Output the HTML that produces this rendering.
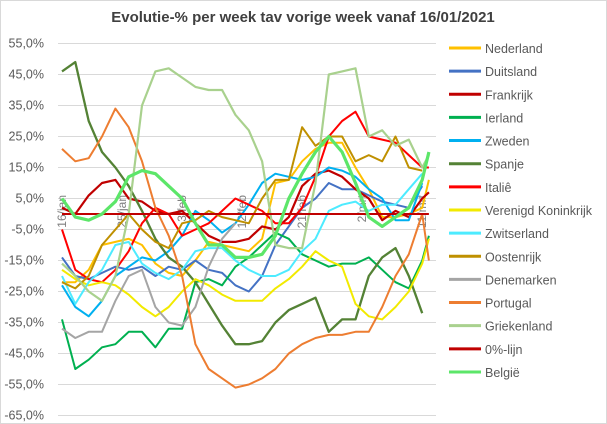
<!DOCTYPE html>
<html><head><meta charset="utf-8"><style>
html,body{margin:0;padding:0;background:#fff}
#c{position:relative;width:607px;height:424px;overflow:hidden;font-family:"Liberation Sans",sans-serif}
svg text{font-family:"Liberation Sans",sans-serif}
</style></head><body>
<div id="c">
<svg id="s" width="607" height="424" xmlns="http://www.w3.org/2000/svg">
<rect x="0.5" y="0.5" width="606" height="423" fill="#fff" stroke="#d9d9d9"/>
<text x="303" y="22" text-anchor="middle" font-size="15" font-weight="bold" fill="#404040">Evolutie-% per week tav vorige week vanaf 16/01/2021</text>
<g id="grid"></g><g id="ylab"></g><g id="xlab"></g><g id="lines"></g><g id="legend"></g>
</svg></div>
<script>
const days=[0,2,4,6,8,10,12,14,16,18,20,22,24,26,28,30,32,34,36,38,40,42,44,46,48,50,52,54,55];
const yTicks=[55,45,35,25,15,5,-5,-15,-25,-35,-45,-55,-65];
const xTickDays=[0,9,18,27,36,45,54];
const xTickLabels=["16/jan","25/jan","3/feb","12/feb","21/feb","2/mrt","11/mrt"];
const seriesNames=["Nederland","Duitsland","Frankrijk","Ierland","Zweden","Spanje","Italiê","Verenigd Koninkrijk","Zwitserland","Oostenrijk","Denemarken","Portugal","Griekenland","0%-lijn","België"];
const nederland=[-22,-22,-18,-10,-9,-8,-10,-16,-19,-20,-15,-9,-10,-11,-12,-8,10,11,17,21,23,23,15,8,-1,-1,0,2,11];
const duitsland=[-14,-20,-21,-19,-17,-18,-17,-20,-17,-18,-15,-18,-19,-23,-25,-20,-10,-4,2,5,10,8,8,6,4,3,2,9,null];
const frankrijk=[2,0,6,10,11,5,4,1,0,1,-3,-7,-9,-9,-8,-4,-5,-1,9,13,14,12,8,5,-2,1,-1,5,7];
const ierland=[-34,-50,-47,-43,-42,-38,-38,-43,-37,-37,-22,-21,-23,-17,-14,-10,-6,-8,-13,-15,-17,-16,-16,-14,-18,-22,-24,-15,-7];
const zweden=[-23,-30,-33,-28,-20,-17,-14,-15,-12,-7,1,-2,-6,-3,3,10,13,12,11,12,15,14,12,8,5,-2,-2,10,null];
const spanje=[46,49,30,20,15,9,1,-8,-14,-17,-22,-29,-36,-42,-42,-41,-35,-31,-29,-27,-38,-34,-34,-20,-14,-11,-20,-32,null];
const italie=[-5,-18,-21,-22,-18,-12,-3,2,0,-7,-5,-3,1,5,3,1,-3,-3,2,12,25,30,33,25,24,23,19,15,15];
const vk=[-18,-21,-23,-22,-23,-26,-30,-33,-30,-25,-21,-23,-26,-28,-28,-28,-24,-21,-17,-12,-15,-17,-29,-33,-34,-30,-25,-16,-8];
const zwitserland=[-20,-29,-22,-18,-10,-9,-16,-19,-21,-18,-12,-11,-11,-15,-18,-20,-20,-18,-12,-8,1,3,4,1,3,3,8,13,null];
const oostenrijk=[-22,-24,-20,-10,-5,0,-5,-9,-11,-3,-2,1,-1,-2,-3,5,11,11,28,22,25,25,17,19,17,25,15,14,null];
const denemarken=[-37,-40,-38,-38,-28,-20,-18,-30,-35,-36,-30,-17,-8,-3,null,null,null,null,null,null,null,null,null,null,null,null,null,null,null];
const portugal=[21,17,18,25,34,28,17,2,-7,-20,-42,-50,-53,-56,-55,-53,-50,-45,-42,-40,-39,-39,-38,-38,-30,-20,-13,0,-15];
const griekenland=[-16,-20,-25,-28,-20,0,35,46,47,44,41,40,40,32,27,17,-10,-11,-11,10,45,46,47,25,27,22,24,15,19];
const nullijn=[0,0,0,0,0,0,0,0,0,0,0,0,0,0,0,0,0,0,0,0,0,0,0,0,0,0,0,0,0];
const belgie=[5,-1,-2,0,4,12,14,13,9,5,-3,-10,-10,-14,-14,-13,-7,5,13,20,25,20,10,-1,-4,-1,2,11,20];
const seriesData=[nederland,duitsland,frankrijk,ierland,zweden,spanje,italie,vk,zwitserland,oostenrijk,denemarken,portugal,griekenland,nullijn,belgie];
const colors=["#FFC000","#4472C4","#C00000","#00B050","#00B0F0","#548235","#FF0000","#F2EA00","#4DEBFF","#BF9000","#A5A5A5","#ED7D31","#A9D18E","#C00000","#5CE669"];
const widths=[2,2,2.2,2,2,2.3,2,2,2,2,2,2,2.2,2,3.2];
const NS="http://www.w3.org/2000/svg";
function X(d){return 62+d*6.67;}
function Y(v){return 214-v*3.1;}
function mk(t,a,p){const e=document.createElementNS(NS,t);for(const k in a)e.setAttribute(k,a[k]);p.appendChild(e);return e;}
const grid=document.getElementById('grid'),ylab=document.getElementById('ylab'),xlab=document.getElementById('xlab'),lines=document.getElementById('lines'),legend=document.getElementById('legend');
yTicks.forEach(t=>{
 const l=mk('line',{x1:58,x2:436,y1:Y(t),y2:Y(t),stroke:'#d9d9d9','stroke-width':1},grid);
 
 
 const tx=mk('text',{x:44,y:Y(t)+4,'text-anchor':'end','font-size':12.5,fill:'#595959'},ylab);
 tx.textContent=t.toFixed(1).replace('.',',')+'%';
 
 
});
xTickDays.forEach((d,i)=>{
 const tx=mk('text',{x:0,y:0,'text-anchor':'end','font-size':12,fill:'#7f7f7f',transform:`translate(${X(d)+4},195) rotate(-90)`},xlab);
 tx.textContent=xTickLabels[i];
 
 
});
seriesData.forEach((arr,si)=>{
 let dstr='',pen=false;
 arr.forEach((v,i)=>{if(v===null){pen=false;return;}dstr+=(pen?'L':'M')+X(days[i]).toFixed(1)+' '+Y(v).toFixed(1);pen=true;});
 const p=mk('path',{d:dstr,fill:'none',stroke:colors[si],'stroke-width':widths[si],'stroke-linejoin':'round'},lines);
 
 
 const ly=48+si*23.14;
 const g=mk('g',{},legend);
 
 
 mk('line',{x1:449,x2:481,y1:ly,y2:ly,stroke:colors[si],'stroke-width':3},g);
 const t=mk('text',{x:485,y:ly+5,'font-size':12.5,fill:'#595959'},g);
 t.textContent=seriesNames[si];
});
</script>
</body></html>
